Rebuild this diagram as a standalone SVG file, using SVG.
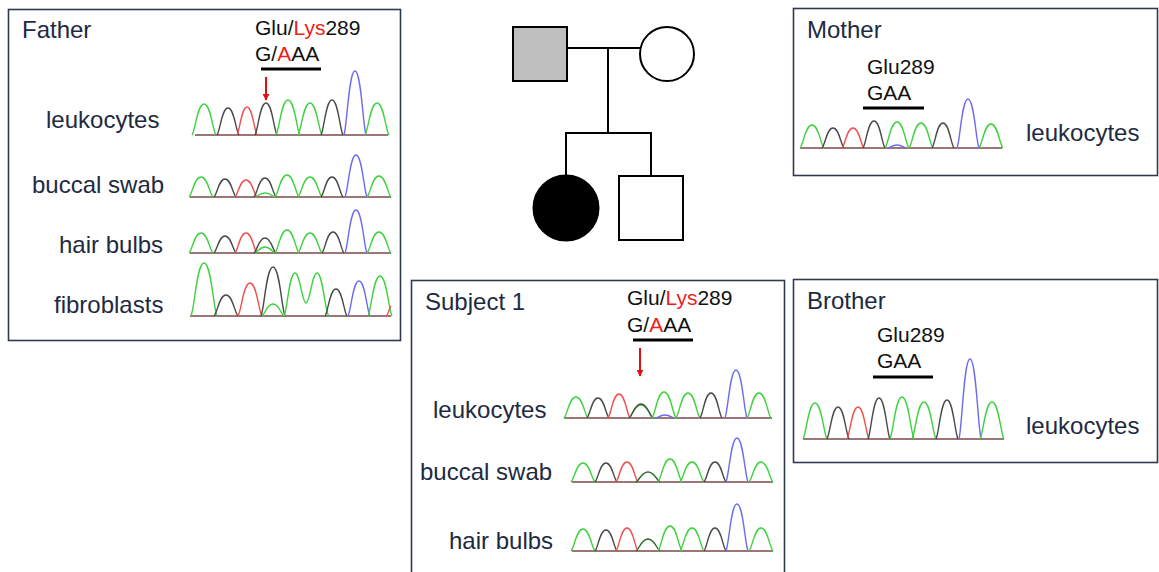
<svg xmlns="http://www.w3.org/2000/svg" xmlns:xlink="http://www.w3.org/1999/xlink" width="1159" height="572" viewBox="0 0 1159 572">
  <style>
    .panel { fill: #ffffff; stroke: #2f3a4d; stroke-width: 1.6; }
    .title { font-family: "Liberation Sans", Arial, sans-serif; font-size: 24px; fill: #1e2a42; }
    .tissue { font-family: "Liberation Sans", Arial, sans-serif; font-size: 24px; fill: #1e2a42; }
    .anno { font-family: "Liberation Sans", Arial, sans-serif; font-size: 21px; fill: #111111; }
    .mut { fill: #ee1c1c; }
    .uline { stroke: #000000; stroke-width: 3; }
    .arrow { stroke: #e01010; stroke-width: 2; fill: none; }
    .trace { fill: none; stroke-width: 1.4; stroke-linejoin: round; }
    .g { stroke: #3fd23f; }
    .k { stroke: #4a4a4a; }
    .r { stroke: #f25050; }
    .b { stroke: #6c6cf0; }
    .dg { stroke: #2a6a2a; }
    .base { stroke: #7a4848; stroke-width: 1.4; fill: none; }
    .ped { stroke: #000000; stroke-width: 2; fill: none; }
  </style>
  <defs>
    <!-- unit peak: spans x -1..1, height 1 above baseline -->
    <path id="pk" class="trace" d="M-1 0C-0.72 -0.15 -0.56 -1 0 -1C0.56 -1 0.72 -0.15 1 0" vector-effect="non-scaling-stroke"/>
    <marker id="ah" viewBox="0 0 10 10" refX="9" refY="5" markerWidth="7" markerHeight="7" markerUnits="userSpaceOnUse" orient="auto">
      <path d="M0 0L10 5L0 10Z" fill="#e01010"/>
    </marker>
  </defs>

  <!-- Father panel -->
  <g id="father">
    <rect class="panel" x="8.5" y="9.5" width="392" height="331"/>
    <text class="title" x="22" y="38">Father</text>
    <text class="anno" x="255" y="35">Glu/<tspan class="mut">Lys</tspan>289</text>
    <text class="anno" x="255" y="61">G/<tspan class="mut">A</tspan>AA</text>
    <line class="uline" x1="261" y1="69" x2="321" y2="69"/>
    <line class="arrow" x1="266" y1="77" x2="266" y2="100" marker-end="url(#ah)"/>

    <text class="tissue" x="46" y="128">leukocytes</text>
    <text class="tissue" x="32" y="193">buccal swab</text>
    <text class="tissue" x="59" y="253">hair bulbs</text>
    <text class="tissue" x="54" y="313">fibroblasts</text>

    <!-- leukocytes trace -->
    <g>
      <line class="base" x1="195" y1="135" x2="388" y2="135"/>
      <use href="#pk" class="g" transform="translate(204 135) scale(12 31)"/>
      <use href="#pk" class="k" transform="translate(228 135) scale(11 27)"/>
      <use href="#pk" class="r" transform="translate(247 135) scale(10 28)"/>
      <use href="#pk" class="k" transform="translate(266 135) scale(11 32)"/>
      <use href="#pk" class="g" transform="translate(288 135) scale(12 35)"/>
      <use href="#pk" class="g" transform="translate(310 135) scale(12 32)"/>
      <use href="#pk" class="k" transform="translate(332 135) scale(11 35)"/>
      <use href="#pk" class="b" transform="translate(355 135) scale(11 64)"/>
      <use href="#pk" class="g" transform="translate(377 135) scale(12 32)"/>
    </g>
    <!-- buccal swab trace -->
    <g>
      <line class="base" x1="190" y1="197" x2="391" y2="197"/>
      <use href="#pk" class="g" transform="translate(201 197) scale(12 20)"/>
      <use href="#pk" class="k" transform="translate(225 197) scale(11 18)"/>
      <use href="#pk" class="r" transform="translate(246 197) scale(11 17)"/>
      <use href="#pk" class="g" transform="translate(265 197) scale(10 4)"/>
      <use href="#pk" class="k" transform="translate(265 197) scale(11 19)"/>
      <use href="#pk" class="g" transform="translate(287 197) scale(12 22)"/>
      <use href="#pk" class="g" transform="translate(310 197) scale(12 20)"/>
      <use href="#pk" class="k" transform="translate(332 197) scale(11 20)"/>
      <use href="#pk" class="b" transform="translate(356 197) scale(11 42)"/>
      <use href="#pk" class="g" transform="translate(379 197) scale(12 21)"/>
    </g>
    <!-- hair bulbs trace -->
    <g>
      <line class="base" x1="190" y1="253" x2="391" y2="253"/>
      <use href="#pk" class="g" transform="translate(201 253) scale(12 20)"/>
      <use href="#pk" class="k" transform="translate(225 253) scale(11 17)"/>
      <use href="#pk" class="r" transform="translate(246 253) scale(11 20)"/>
      <use href="#pk" class="g" transform="translate(265 253) scale(10 6)"/>
      <use href="#pk" class="k" transform="translate(265 253) scale(11 15)"/>
      <use href="#pk" class="g" transform="translate(287 253) scale(12 23)"/>
      <use href="#pk" class="g" transform="translate(310 253) scale(12 20)"/>
      <use href="#pk" class="k" transform="translate(333 253) scale(11 21)"/>
      <use href="#pk" class="b" transform="translate(356 253) scale(11 43)"/>
      <use href="#pk" class="g" transform="translate(379 253) scale(12 21)"/>
    </g>
    <!-- fibroblasts trace -->
    <g>
      <line class="base" x1="190" y1="316" x2="391" y2="316"/>
      <use href="#pk" class="g" transform="translate(204 316) scale(13 53)"/>
      <use href="#pk" class="k" transform="translate(226 316) scale(12 21)"/>
      <use href="#pk" class="r" transform="translate(250 316) scale(12 33)"/>
      <use href="#pk" class="g" transform="translate(273 316) scale(11 12)"/>
      <use href="#pk" class="k" transform="translate(273 316) scale(12 49)"/>
      <path class="trace g" d="M284 316C287 313 289 273 295 273C300 273 302 303 306 303C310 303 312 273 317 273C323 273 325 313 329 316"/>
      <use href="#pk" class="k" transform="translate(336 316) scale(11 27)"/>
      <use href="#pk" class="b" transform="translate(359 316) scale(11 35)"/>
      <use href="#pk" class="g" transform="translate(380 316) scale(12 40)"/>
      <path class="trace r" d="M386 316C388 316 389 308 391 306"/>
    </g>
  </g>

  <!-- Mother panel -->
  <g id="mother">
    <rect class="panel" x="793.5" y="8.5" width="364" height="167"/>
    <text class="title" x="807" y="38">Mother</text>
    <text class="anno" x="867" y="74">Glu289</text>
    <text class="anno" x="867" y="100">GAA</text>
    <line class="uline" x1="863" y1="108" x2="924" y2="108"/>
    <text class="tissue" x="1026" y="141">leukocytes</text>
    <g>
      <line class="base" x1="800" y1="148" x2="1002" y2="148"/>
      <use href="#pk" class="b" transform="translate(897 148) scale(9 3)"/>
      <use href="#pk" class="g" transform="translate(812 148) scale(12 23)"/>
      <use href="#pk" class="k" transform="translate(833 148) scale(11 20)"/>
      <use href="#pk" class="r" transform="translate(853 148) scale(11 20)"/>
      <use href="#pk" class="k" transform="translate(874 148) scale(11 27)"/>
      <use href="#pk" class="g" transform="translate(897 148) scale(12 26)"/>
      <use href="#pk" class="g" transform="translate(921 148) scale(12 25)"/>
      <use href="#pk" class="k" transform="translate(943 148) scale(11 25)"/>
      <use href="#pk" class="b" transform="translate(968 148) scale(11 49)"/>
      <use href="#pk" class="g" transform="translate(991 148) scale(12 24)"/>
    </g>
  </g>

  <!-- Subject 1 panel -->
  <g id="subject1">
    <rect class="panel" x="411.5" y="280.5" width="373" height="300"/>
    <text class="title" x="425" y="310">Subject 1</text>
    <text class="anno" x="627" y="305">Glu/<tspan class="mut">Lys</tspan>289</text>
    <text class="anno" x="627" y="332">G/<tspan class="mut">A</tspan>AA</text>
    <line class="uline" x1="633" y1="340" x2="693" y2="340"/>
    <line class="arrow" x1="640" y1="348" x2="640" y2="376" marker-end="url(#ah)"/>

    <text class="tissue" x="433" y="418">leukocytes</text>
    <text class="tissue" x="420" y="480">buccal swab</text>
    <text class="tissue" x="449" y="549">hair bulbs</text>

    <!-- leukocytes trace -->
    <g>
      <line class="base" x1="564" y1="418" x2="772" y2="418"/>
      <use href="#pk" class="b" transform="translate(665 418) scale(9 3)"/>
      <use href="#pk" class="g" transform="translate(576 418) scale(12 21)"/>
      <use href="#pk" class="k" transform="translate(598 418) scale(11 20)"/>
      <use href="#pk" class="r" transform="translate(619 418) scale(11 24)"/>
      <use href="#pk" class="g" transform="translate(641 418) scale(12 13)"/>
      <use href="#pk" class="k" transform="translate(641 418) scale(12 14)"/>
      <use href="#pk" class="g" transform="translate(664 418) scale(12 26)"/>
      <use href="#pk" class="g" transform="translate(688 418) scale(12 25)"/>
      <use href="#pk" class="k" transform="translate(711 418) scale(11 25)"/>
      <use href="#pk" class="b" transform="translate(736 418) scale(11 48)"/>
      <use href="#pk" class="g" transform="translate(759 418) scale(12 25)"/>
    </g>
    <!-- buccal swab trace -->
    <g>
      <line class="base" x1="572" y1="482" x2="773" y2="482"/>
      <use href="#pk" class="g" transform="translate(583 482) scale(12 19)"/>
      <use href="#pk" class="k" transform="translate(606 482) scale(11 19)"/>
      <use href="#pk" class="r" transform="translate(627 482) scale(11 20)"/>
      <use href="#pk" class="dg" transform="translate(648 482) scale(12 10)"/>
      <use href="#pk" class="g" transform="translate(670 482) scale(12 23)"/>
      <use href="#pk" class="g" transform="translate(692 482) scale(12 20)"/>
      <use href="#pk" class="k" transform="translate(715 482) scale(11 20)"/>
      <use href="#pk" class="b" transform="translate(737 482) scale(11 44)"/>
      <use href="#pk" class="g" transform="translate(761 482) scale(12 20)"/>
    </g>
    <!-- hair bulbs trace -->
    <g>
      <line class="base" x1="572" y1="551" x2="773" y2="551"/>
      <use href="#pk" class="g" transform="translate(583 551) scale(12 22)"/>
      <use href="#pk" class="k" transform="translate(606 551) scale(11 21)"/>
      <use href="#pk" class="r" transform="translate(627 551) scale(11 23)"/>
      <use href="#pk" class="dg" transform="translate(648 551) scale(12 12)"/>
      <use href="#pk" class="g" transform="translate(670 551) scale(12 25)"/>
      <use href="#pk" class="g" transform="translate(692 551) scale(12 23)"/>
      <use href="#pk" class="k" transform="translate(715 551) scale(11 23)"/>
      <use href="#pk" class="b" transform="translate(737 551) scale(11 47)"/>
      <use href="#pk" class="g" transform="translate(761 551) scale(12 23)"/>
    </g>
  </g>

  <!-- Brother panel -->
  <g id="brother">
    <rect class="panel" x="793.5" y="279.5" width="364" height="183"/>
    <text class="title" x="807" y="309">Brother</text>
    <text class="anno" x="877" y="342">Glu289</text>
    <text class="anno" x="877" y="368">GAA</text>
    <line class="uline" x1="873" y1="377" x2="933" y2="377"/>
    <text class="tissue" x="1026" y="434">leukocytes</text>
    <g>
      <line class="base" x1="803" y1="439" x2="1004" y2="439"/>
      <use href="#pk" class="g" transform="translate(815 439) scale(12 36)"/>
      <use href="#pk" class="k" transform="translate(838 439) scale(11 32)"/>
      <use href="#pk" class="r" transform="translate(858 439) scale(11 32)"/>
      <use href="#pk" class="k" transform="translate(879 439) scale(11 41)"/>
      <use href="#pk" class="g" transform="translate(902 439) scale(12 42)"/>
      <use href="#pk" class="g" transform="translate(924 439) scale(12 37)"/>
      <use href="#pk" class="k" transform="translate(947 439) scale(11 39)"/>
      <use href="#pk" class="b" transform="translate(970 439) scale(11 80)"/>
      <use href="#pk" class="g" transform="translate(992 439) scale(12 37)"/>
    </g>
  </g>

  <!-- Pedigree -->
  <g id="pedigree-lines">
    <line class="ped" x1="567" y1="48" x2="640" y2="48"/>
    <line class="ped" x1="608" y1="48" x2="608" y2="133"/>
    <polyline class="ped" points="566,175 566,133 651,133 651,175"/>
  </g>
  <g id="ped-father">
    <rect x="513" y="27" width="54" height="54" fill="#bfbfbf" stroke="#000" stroke-width="2"/>
  </g>
  <g id="ped-mother">
    <circle cx="667" cy="54" r="27" fill="#ffffff" stroke="#000" stroke-width="2"/>
  </g>
  <g id="ped-subject1">
    <circle cx="566" cy="208" r="32.5" fill="#000000" stroke="#000" stroke-width="2"/>
  </g>
  <g id="ped-brother">
    <rect x="619" y="176" width="64" height="64" fill="#ffffff" stroke="#000" stroke-width="2"/>
  </g>
</svg>
